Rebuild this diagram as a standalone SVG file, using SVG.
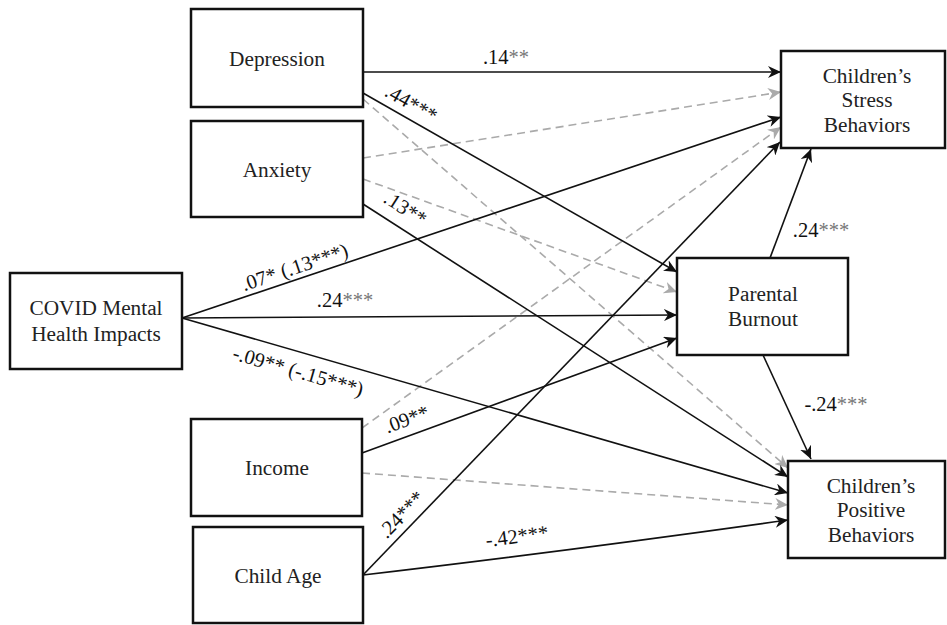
<svg xmlns="http://www.w3.org/2000/svg" width="947" height="625" viewBox="0 0 947 625">
<style>
.box{fill:#fff;stroke:#111;stroke-width:2.5}
.t{font-family:"Liberation Serif","Times New Roman",serif;font-size:21.3px;fill:#222;text-anchor:middle}
.lab{font-family:"Liberation Serif","Times New Roman",serif;font-size:20.5px;fill:#111;text-anchor:middle}
.st{fill:#777}
.s{fill:none;stroke:#111;stroke-width:1.6;marker-end:url(#ab)}
.d{fill:none;stroke:#aaa;stroke-width:1.6;stroke-dasharray:8 5;marker-end:url(#ag)}
</style>
<defs>
<marker id="ab" markerUnits="userSpaceOnUse" markerWidth="14" markerHeight="12" refX="13" refY="6" orient="auto" viewBox="0 0 14 12">
<path d="M0,0 L13,6 L0,12 L4,6 z" fill="#111"/>
</marker>
<marker id="ag" markerUnits="userSpaceOnUse" markerWidth="14" markerHeight="12" refX="13" refY="6" orient="auto" viewBox="0 0 14 12">
<path d="M0,0 L13,6 L0,12 L4,6 z" fill="#aaa"/>
</marker>
</defs>
<g id="connectors">
<line class="d" x1="363" y1="99" x2="788" y2="468"/>
<line class="d" x1="363" y1="158" x2="781" y2="92"/>
<line class="d" x1="363" y1="179" x2="677" y2="292"/>
<line class="d" x1="362" y1="428" x2="781" y2="127"/>
<line class="d" x1="362" y1="473" x2="788" y2="505"/>
<line class="s" x1="363" y1="72" x2="781" y2="72"/>
<line class="s" x1="363" y1="93" x2="677" y2="272"/>
<line class="s" x1="363" y1="204" x2="788" y2="477"/>
<line class="s" x1="182" y1="318" x2="781" y2="117"/>
<line class="s" x1="182" y1="318" x2="677" y2="315"/>
<line class="s" x1="182" y1="318" x2="788" y2="493"/>
<line class="s" x1="362" y1="453" x2="677" y2="338"/>
<line class="s" x1="363" y1="575" x2="780" y2="142"/>
<path class="s" d="M363,575 Q560,552 788,520"/>
<line class="s" x1="770" y1="258" x2="811" y2="149"/>
<line class="s" x1="763" y1="355" x2="811" y2="459"/>
<text class="lab" x="506" y="64">.14<tspan class="st">**</tspan></text>
<text class="lab" transform="translate(411,104) rotate(29.7)" x="0" y="6">.44***</text>
<text class="lab" transform="translate(405,209) rotate(32.7)" x="0" y="6">.13**</text>
<text class="lab" transform="translate(295,268) rotate(-18.5)" x="0" y="6">.07* (.13***)</text>
<text class="lab" x="345" y="307">.24<tspan class="st">***</tspan></text>
<text class="lab" transform="translate(298,372) rotate(16.1)" x="0" y="6">-.09** (-.15***)</text>
<text class="lab" transform="translate(407,420) rotate(-20)" x="0" y="6">.09**</text>
<text class="lab" transform="translate(402,515) rotate(-46)" x="0" y="6">.24***</text>
<text class="lab" transform="translate(517,537) rotate(-7.4)" x="0" y="6">-.42***</text>
<text class="lab" x="821" y="237">.24<tspan class="st">***</tspan></text>
<text class="lab" x="836" y="411">-.24<tspan class="st">***</tspan></text>
</g>
<g id="depression"><rect class="box" x="191" y="9" width="172" height="98"/><text class="t" x="277" y="66">Depression</text></g>
<g id="anxiety"><rect class="box" x="191" y="121" width="172" height="96"/><text class="t" x="277" y="177">Anxiety</text></g>
<g id="covid"><rect class="box" x="10" y="273" width="172" height="96"/><text class="t" x="96" y="315">COVID Mental</text><text class="t" x="96" y="341">Health Impacts</text></g>
<g id="income"><rect class="box" x="191" y="419" width="171" height="97"/><text class="t" x="277" y="475">Income</text></g>
<g id="childage"><rect class="box" x="193" y="527" width="170" height="96"/><text class="t" x="278" y="583">Child Age</text></g>
<g id="stress"><rect class="box" x="781" y="51" width="164" height="97"/><text class="t" x="867" y="83">Children’s</text><text class="t" x="867" y="107">Stress</text><text class="t" x="867" y="132">Behaviors</text></g>
<g id="burnout"><rect class="box" x="677" y="258" width="171" height="97"/><text class="t" x="763" y="301">Parental</text><text class="t" x="763" y="326">Burnout</text></g>
<g id="positive"><rect class="box" x="788" y="461" width="157" height="97"/><text class="t" x="871" y="493">Children’s</text><text class="t" x="871" y="517">Positive</text><text class="t" x="871" y="542">Behaviors</text></g>
</svg>
